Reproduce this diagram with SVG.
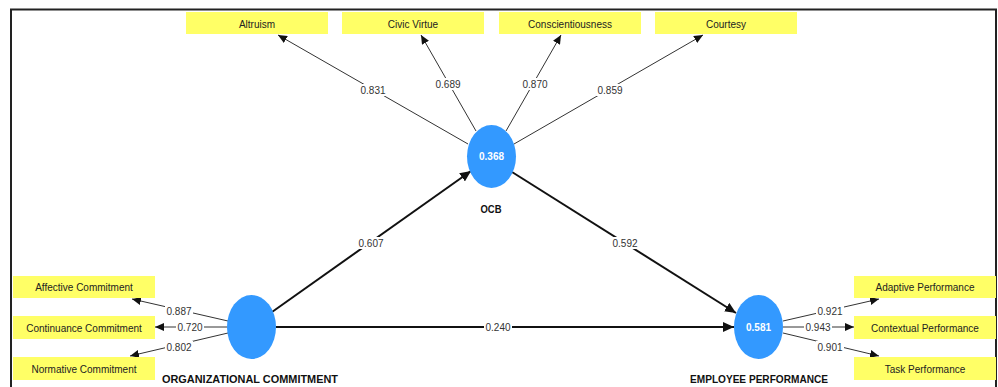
<svg xmlns="http://www.w3.org/2000/svg" width="998" height="387" viewBox="0 0 998 387">
  <style>
    .ind { fill: #FFFF66; }
    .indt { font-family: "Liberation Sans", Arial, sans-serif; font-size: 10px; fill: #222; text-anchor: middle; }
    .lv { fill: #3399FF; }
    .lvt { font-family: "Liberation Sans", Arial, sans-serif; font-size: 10px; font-weight: bold; fill: #fff; text-anchor: middle; }
    .lvn { font-family: "Liberation Sans", Arial, sans-serif; font-size: 11px; font-weight: bold; fill: #111; text-anchor: middle; }
    .thin { stroke: #333; stroke-width: 1; fill: none; marker-end: url(#ah); }
    .thick { stroke: #111; stroke-width: 2; fill: none; marker-end: url(#ahb); }
    .lbg { fill: #fff; }
    .num { font-family: "Liberation Sans", Arial, sans-serif; font-size: 10px; fill: #333; text-anchor: middle; }
  </style>
  <defs>
    <marker id="ah" markerUnits="userSpaceOnUse" markerWidth="10" markerHeight="8" refX="9" refY="4" orient="auto">
      <path d="M0,0 L9,4 L0,8 Z" fill="#111"/>
    </marker>
    <marker id="ahb" markerUnits="userSpaceOnUse" markerWidth="12" markerHeight="10" refX="11" refY="5" orient="auto">
      <path d="M0,0 L11,5 L0,10 Z" fill="#111"/>
    </marker>
  </defs>
  <rect width="998" height="387" fill="#fff"/>
  <rect x="11" y="9.5" width="985" height="400" fill="none" stroke="#222" stroke-width="2"/>

  <g id="connectors">
    <line class="thin" x1="468" y1="144" x2="278" y2="35"/>
    <line class="thin" x1="476" y1="131" x2="421" y2="35"/>
    <line class="thin" x1="506" y1="131" x2="561" y2="35"/>
    <line class="thin" x1="514" y1="144" x2="703" y2="35"/>
    <line class="thin" x1="228" y1="321" x2="132" y2="299"/>
    <line class="thin" x1="227" y1="327" x2="155" y2="327"/>
    <line class="thin" x1="228" y1="333" x2="130" y2="356"/>
    <line class="thin" x1="783" y1="321" x2="879" y2="299"/>
    <line class="thin" x1="783" y1="327" x2="854" y2="327"/>
    <line class="thin" x1="783" y1="333" x2="879" y2="356"/>
    <line class="thick" x1="272" y1="312" x2="471" y2="171"/>
    <line class="thick" x1="512" y1="172" x2="736" y2="313"/>
    <line class="thick" x1="276" y1="327" x2="734" y2="327"/>

    <rect class="lbg" x="359" y="84" width="28" height="12"/><text class="num" x="373" y="93.5">0.831</text>
    <rect class="lbg" x="434" y="78" width="28" height="12"/><text class="num" x="448" y="87.5">0.689</text>
    <rect class="lbg" x="521" y="78" width="28" height="12"/><text class="num" x="535" y="87.5">0.870</text>
    <rect class="lbg" x="596" y="84" width="28" height="12"/><text class="num" x="610" y="93.5">0.859</text>
    <rect class="lbg" x="165" y="305" width="28" height="12"/><text class="num" x="179" y="314.5">0.887</text>
    <rect class="lbg" x="176" y="321" width="28" height="12"/><text class="num" x="190" y="330.5">0.720</text>
    <rect class="lbg" x="165" y="341" width="28" height="12"/><text class="num" x="179" y="350.5">0.802</text>
    <rect class="lbg" x="816" y="305" width="28" height="12"/><text class="num" x="830" y="314.5">0.921</text>
    <rect class="lbg" x="804" y="321" width="28" height="12"/><text class="num" x="818" y="330.5">0.943</text>
    <rect class="lbg" x="816" y="341" width="28" height="12"/><text class="num" x="830" y="350.5">0.901</text>
    <rect class="lbg" x="357" y="237" width="28" height="12"/><text class="num" x="371" y="246.5">0.607</text>
    <rect class="lbg" x="611" y="237" width="28" height="12"/><text class="num" x="625" y="246.5">0.592</text>
    <rect class="lbg" x="484" y="321" width="28" height="12"/><text class="num" x="498" y="330.5">0.240</text>
  </g>

  <g id="altruism"><rect class="ind" x="186" y="12" width="142" height="22"/><text class="indt" x="257" y="27.5">Altruism</text></g>
  <g id="civic-virtue"><rect class="ind" x="342" y="12" width="142" height="22"/><text class="indt" x="413" y="27.5">Civic Virtue</text></g>
  <g id="conscientiousness"><rect class="ind" x="499" y="12" width="142" height="22"/><text class="indt" x="570" y="27.5">Conscientiousness</text></g>
  <g id="courtesy"><rect class="ind" x="655" y="12" width="142" height="22"/><text class="indt" x="726" y="27.5">Courtesy</text></g>

  <g id="affective-commitment"><rect class="ind" x="13" y="276" width="142" height="22"/><text class="indt" x="84" y="291">Affective Commitment</text></g>
  <g id="continuance-commitment"><rect class="ind" x="13" y="316" width="142" height="23"/><text class="indt" x="84" y="331.5">Continuance Commitment</text></g>
  <g id="normative-commitment"><rect class="ind" x="13" y="357" width="142" height="23"/><text class="indt" x="84" y="372.5">Normative Commitment</text></g>

  <g id="adaptive-performance"><rect class="ind" x="854" y="276" width="142" height="22"/><text class="indt" x="925" y="291">Adaptive Performance</text></g>
  <g id="contextual-performance"><rect class="ind" x="854" y="316" width="142" height="23"/><text class="indt" x="925" y="331.5">Contextual Performance</text></g>
  <g id="task-performance"><rect class="ind" x="854" y="357" width="142" height="23"/><text class="indt" x="925" y="372.5">Task Performance</text></g>

  <g id="ocb">
    <ellipse class="lv" cx="491.5" cy="156.5" rx="24.5" ry="31.5"/>
    <text class="lvt" x="491.5" y="160">0.368</text>
    <text class="lvn" x="491" y="212.5" textLength="21" lengthAdjust="spacingAndGlyphs">OCB</text>
  </g>
  <g id="organizational-commitment">
    <ellipse class="lv" cx="251.5" cy="327" rx="24.5" ry="32"/>
    <text class="lvn" x="250" y="383" textLength="176" lengthAdjust="spacingAndGlyphs">ORGANIZATIONAL COMMITMENT</text>
  </g>
  <g id="employee-performance">
    <ellipse class="lv" cx="758.5" cy="327" rx="24.5" ry="32"/>
    <text class="lvt" x="758.5" y="330.5">0.581</text>
    <text class="lvn" x="759" y="383" textLength="138" lengthAdjust="spacingAndGlyphs">EMPLOYEE PERFORMANCE</text>
  </g>
</svg>
